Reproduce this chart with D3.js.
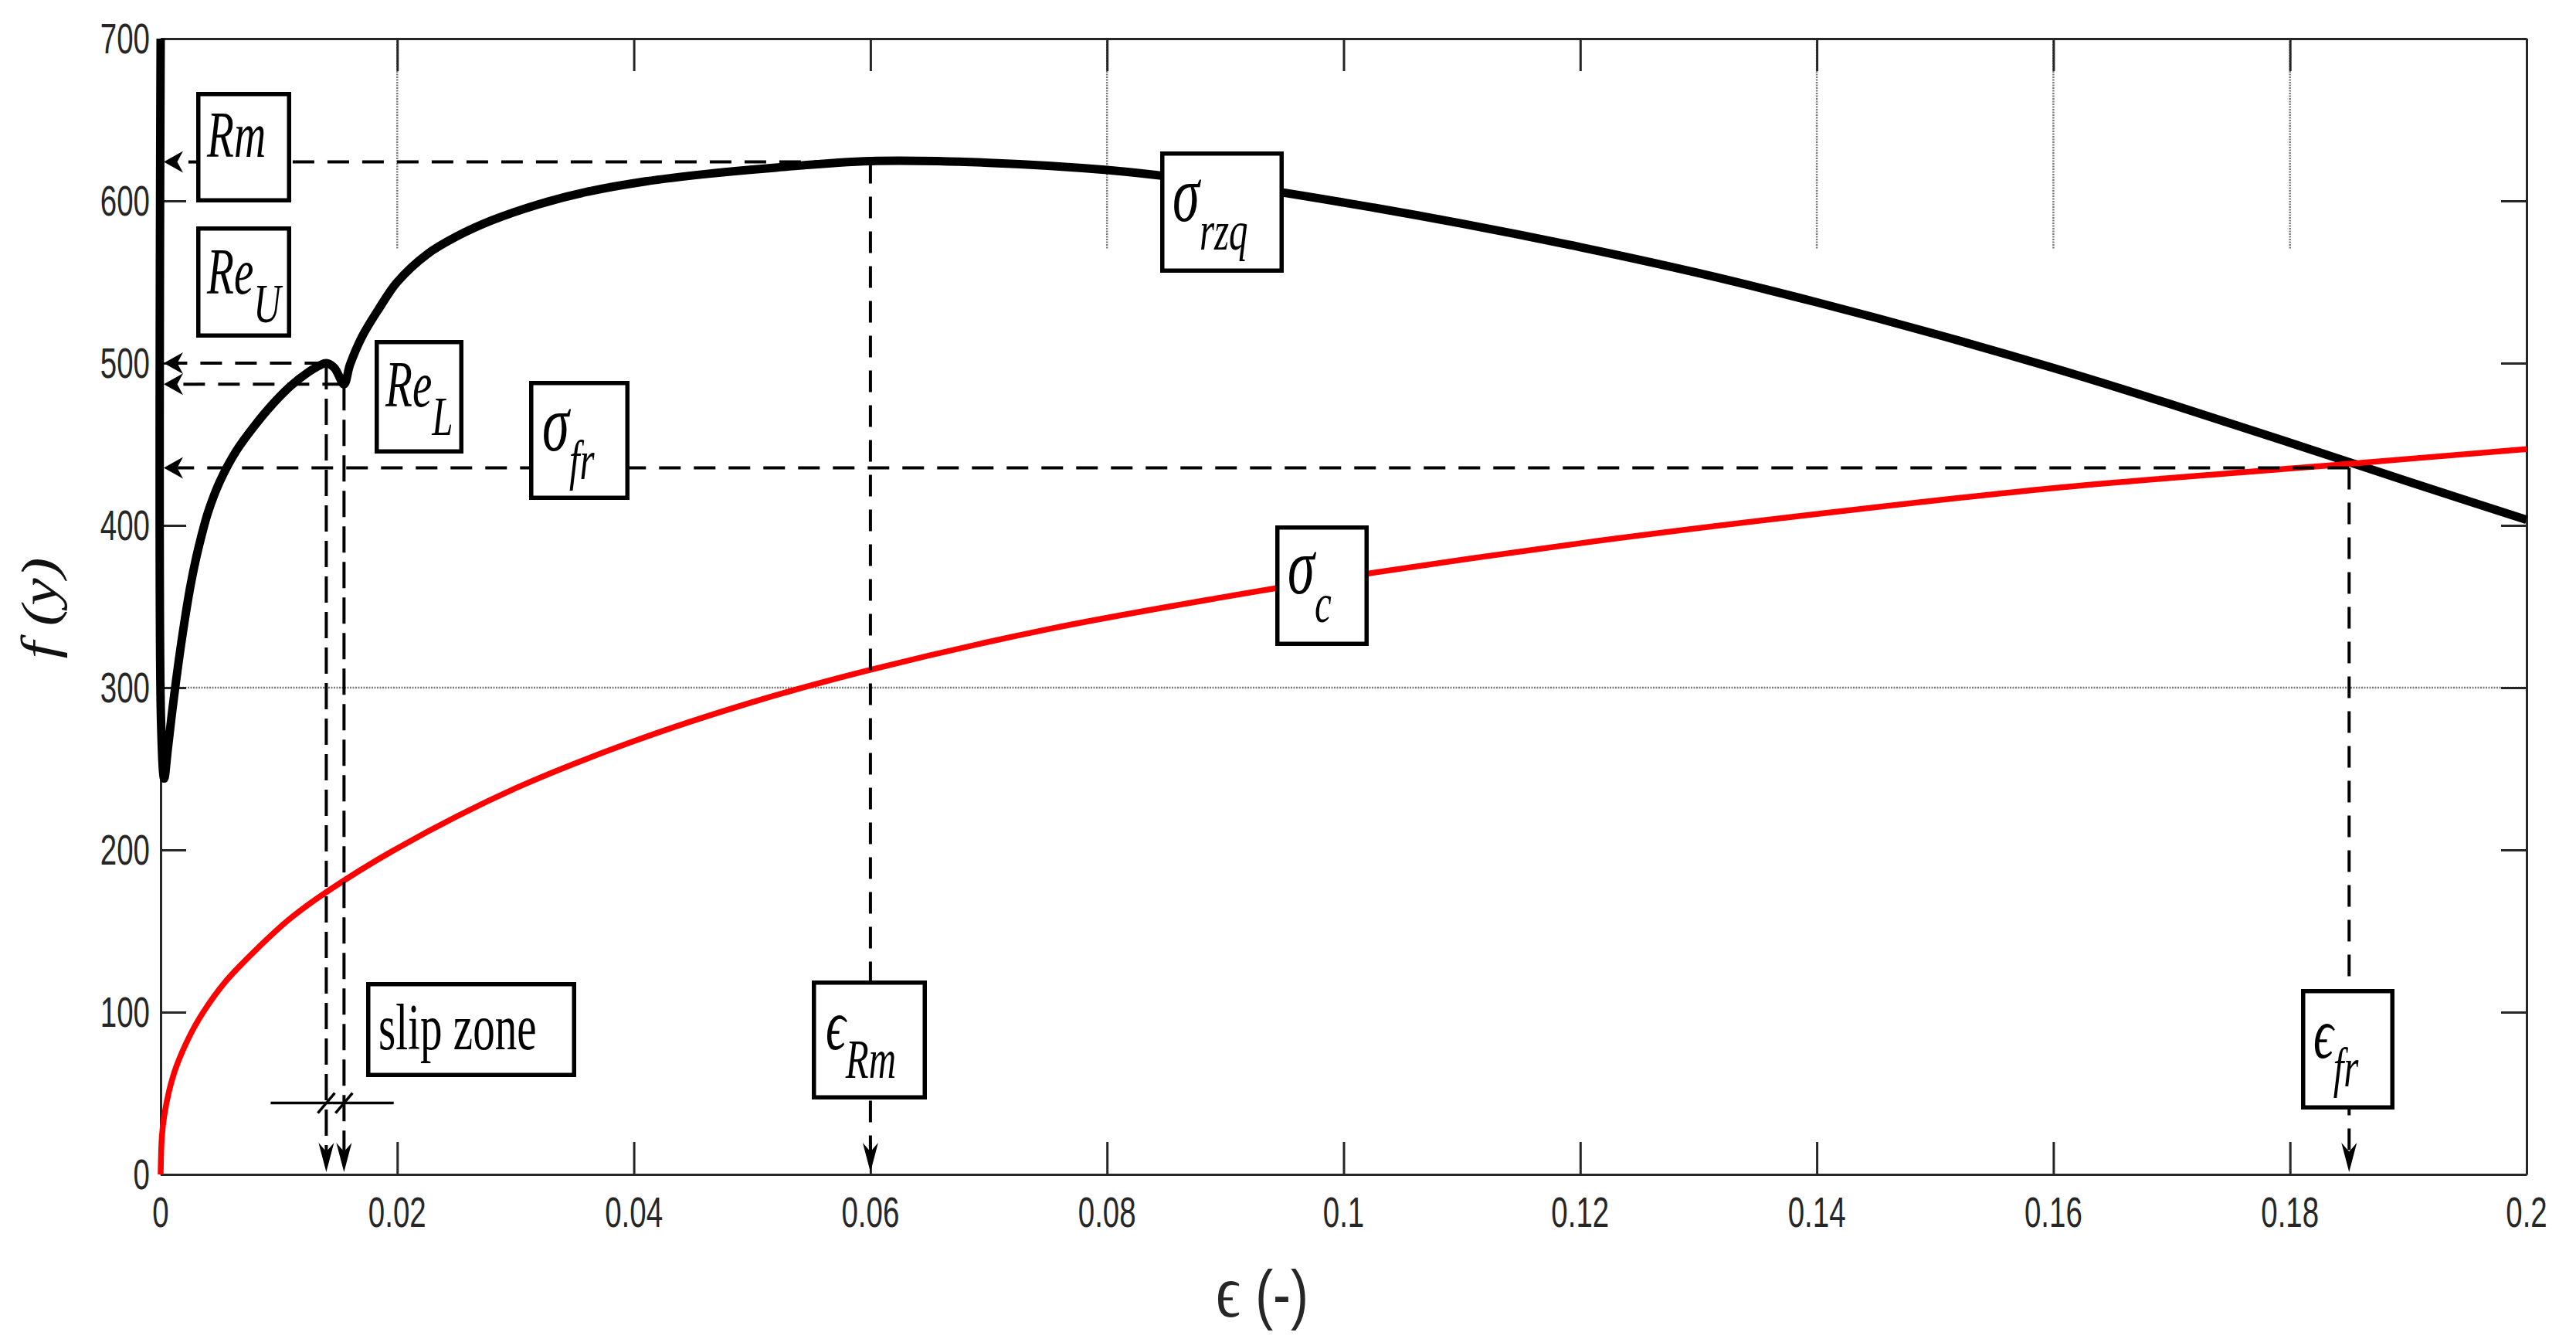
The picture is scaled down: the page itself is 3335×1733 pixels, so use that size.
<!DOCTYPE html>
<html><head><meta charset="utf-8">
<script src="https://cdn.jsdelivr.net/npm/d3@7"></script>
<style>html,body{margin:0;padding:0;background:#fff;} svg{display:block;}</style>
</head><body>
<svg id="chart" width="3335" height="1733"></svg>
<script>
// ---------- data ----------
const xTicks = [0, 0.02, 0.04, 0.06, 0.08, 0.1, 0.12, 0.14, 0.16, 0.18, 0.2];
const xTickLabels = ["0", "0.02", "0.04", "0.06", "0.08", "0.1", "0.12", "0.14", "0.16", "0.18", "0.2"];
const yTicks = [0, 100, 200, 300, 400, 500, 600, 700];
const yTickLabels = ["0", "100", "200", "300", "400", "500", "600", "700"];

// sigma_rzq (black) curve
const rzqStrain = [0, 0.00003, 0.0003, 0.0006, 0.001, 0.0015, 0.002, 0.0025, 0.003, 0.0035, 0.004, 0.005, 0.0064, 0.008, 0.0095, 0.011, 0.0125, 0.0135, 0.014, 0.0147, 0.0155, 0.016, 0.017, 0.0184, 0.02, 0.0225, 0.025, 0.028, 0.032, 0.036, 0.041, 0.046, 0.052, 0.06, 0.07, 0.08, 0.09, 0.1, 0.11, 0.12, 0.13, 0.14, 0.15, 0.16, 0.17, 0.18, 0.19, 0.2];
const rzqStress = [700, 280, 244, 262, 287, 315, 340, 362, 380, 395, 408, 427, 446, 462, 475, 486, 494.5, 498.8, 500, 497, 487, 499, 516, 533, 550, 567, 578, 588, 598, 605.5, 612, 616.5, 620.5, 624.5, 623.5, 619, 610.5, 599, 586, 571.5, 555.5, 537.5, 518, 497, 474.5, 451, 427, 403.5];

// sigma_c (red) curve
const cStrain = [0, 0.0001, 0.0003, 0.0007, 0.0013, 0.0025, 0.0036, 0.0055, 0.008, 0.011, 0.014, 0.02, 0.03, 0.04, 0.05, 0.06, 0.075, 0.09, 0.1, 0.12, 0.14, 0.16, 0.185, 0.2];
const cStress = [0, 23, 36, 51, 66, 86, 100, 119, 138, 158, 174, 201, 238, 267, 291, 311, 336, 356, 368, 389, 407, 423, 438, 447];

// characteristic points (strain, stress)
const markerNames = ["ReU", "ReL", "Rm", "fr"];
const markerStrain = [0.014, 0.0155, 0.06, 0.185];
const markerStress = [500, 487, 624, 435.5];

// residual grid segments visible at the top, and the one horizontal grid line
const partialGridX = [0.02, 0.08, 0.14, 0.16, 0.18];
const partialGridFrom = 700, partialGridTo = 570;
const gridY = [300];

// slip zone marker
const slipStrain = [0.0093, 0.0197];
const slipStress = 44;

// ---------- layout ----------
const svg = d3.select("#chart");
svg.append("rect").attr("width", 3335).attr("height", 1733).attr("fill", "#fff");
const L = 208, R = 3271, T = 50, B = 1520;
const x = d3.scaleLinear().domain([0, 0.2]).range([L, R]);
const y = d3.scaleLinear().domain([0, 700]).range([B, T]);
const axisCol = "#262626";

// grid
const grid = svg.append("g").attr("stroke", "#7a7a7a").attr("stroke-width", 2.5).attr("stroke-dasharray", "2,1.5");
gridY.forEach(v => grid.append("line").attr("x1", L).attr("x2", R).attr("y1", y(v)).attr("y2", y(v)));
partialGridX.forEach(v => grid.append("line").attr("x1", x(v)).attr("x2", x(v)).attr("y1", y(partialGridFrom)).attr("y2", y(partialGridTo)));

// axes (ticks inward on all four sides)
function styleAxis(g) {
  g.selectAll("path.domain").attr("stroke", axisCol).attr("stroke-width", 3);
  g.selectAll(".tick line").attr("stroke", axisCol).attr("stroke-width", 3);
  g.selectAll(".tick text").remove();
}
svg.append("g").attr("transform", `translate(0,${B})`)
  .call(d3.axisBottom(x).tickValues(xTicks).tickSizeInner(-42).tickSizeOuter(0).tickFormat("")).call(styleAxis);
svg.append("g").attr("transform", `translate(0,${T})`)
  .call(d3.axisTop(x).tickValues(xTicks).tickSizeInner(-42).tickSizeOuter(0).tickFormat("")).call(styleAxis);
svg.append("g").attr("transform", `translate(${L},0)`)
  .call(d3.axisLeft(y).tickValues(yTicks).tickSizeInner(-33).tickSizeOuter(0).tickFormat("")).call(styleAxis);
svg.append("g").attr("transform", `translate(${R},0)`)
  .call(d3.axisRight(y).tickValues(yTicks).tickSizeInner(-33).tickSizeOuter(0).tickFormat("")).call(styleAxis);

// tick labels
const sans = "'Liberation Sans', Arial, Helvetica, sans-serif";
const serif = "'Liberation Serif', 'Times New Roman', 'DejaVu Serif', serif";
const TX = 0.70, TF = 55;
svg.append("g").selectAll("text").data(xTicks).join("text")
  .attr("transform", d => `translate(${x(d)},1588) scale(${TX},1)`)
  .attr("text-anchor", "middle").attr("font-family", sans).attr("font-size", TF).attr("fill", axisCol)
  .text((d, i) => xTickLabels[i]);
svg.append("g").selectAll("text").data(yTicks).join("text")
  .attr("transform", d => `translate(194,${y(d) + 19}) scale(${TX},1)`)
  .attr("text-anchor", "end").attr("font-family", sans).attr("font-size", TF).attr("fill", axisCol)
  .text((d, i) => yTickLabels[i]);

// axis titles
const xl = svg.append("text").attr("transform", `translate(1574,1704) scale(0.8,1)`)
  .attr("font-family", sans).attr("font-size", 86).attr("fill", axisCol);
xl.append("tspan").attr("font-family", serif).attr("font-size", 98).text("ϵ");
xl.append("tspan").attr("x", 64).text("(-)");
svg.append("text").attr("transform", `translate(73,787) scale(0.82,1) rotate(-90)`)
  .attr("text-anchor", "middle").attr("font-family", serif).attr("font-style", "italic")
  .attr("font-size", 80).attr("fill", "#111").text("f (y)");

// curves
const line = d3.line().curve(d3.curveCatmullRom.alpha(0.5));
const blackPts = rzqStrain.map((e, i) => [x(e), y(rzqStress[i])]);
const redPts = cStrain.map((e, i) => [x(e), y(cStress[i])]);
svg.append("path").attr("d", line(blackPts)).attr("fill", "none").attr("stroke", "#000")
  .attr("stroke-width", 11).attr("stroke-linejoin", "round");
svg.append("path").attr("d", line(redPts)).attr("fill", "none").attr("stroke", "#ff0000")
  .attr("stroke-width", 7.5).attr("stroke-linejoin", "round");

// dashed guide lines with arrows
const guides = svg.append("g");
const tipLeft = x(0) + 4, tipDown = y(0) - 3;
const aL = 25, aW = 14, dL = 38, dW = 10;
markerNames.forEach((n, i) => {
  const px = x(markerStrain[i]), py = y(markerStress[i]);
  const vDash = (n === "ReU" || n === "ReL") ? "34,12" : "28,17";
  guides.append("line").attr("x1", px).attr("x2", tipLeft + aL * 0.7).attr("y1", py).attr("y2", py)
    .attr("stroke", "#000").attr("stroke-width", 4).attr("stroke-dasharray", "28,17");
  guides.append("line").attr("x1", px).attr("x2", px).attr("y1", py).attr("y2", tipDown - dL * 0.7)
    .attr("stroke", "#000").attr("stroke-width", 4).attr("stroke-dasharray", vDash);
  guides.append("path").attr("fill", "#000")
    .attr("d", `M${tipLeft},${py} L${tipLeft + aL},${py - aW} L${tipLeft + aL * 0.7},${py} L${tipLeft + aL},${py + aW} Z`);
  guides.append("path").attr("fill", "#000")
    .attr("d", `M${px},${tipDown} L${px - dW},${tipDown - dL} L${px},${tipDown - dL * 0.7} L${px + dW},${tipDown - dL} Z`);
});

// slip zone marker
const sy = y(slipStress);
guides.append("line").attr("x1", x(slipStrain[0])).attr("x2", x(slipStrain[1])).attr("y1", sy).attr("y2", sy)
  .attr("stroke", "#000").attr("stroke-width", 3.5);
[0, 1].forEach(i => {
  const px = x(markerStrain[i]);
  guides.append("line").attr("x1", px - 11).attr("x2", px + 11).attr("y1", sy + 13).attr("y2", sy - 13)
    .attr("stroke", "#000").attr("stroke-width", 3.5);
});

// annotation boxes (mf = font size of the main symbol)
const boxes = [
  {b: [254, 119, 377, 262], t: [268, 203], main: "Rm", mf: 84, sub: null, it: true},
  {b: [254, 293, 377, 437], t: [268, 380], main: "Re", mf: 84, sub: "U", it: true},
  {b: [485, 440, 600, 587], t: [499, 526], main: "Re", mf: 84, sub: "L", it: true},
  {b: [685, 493, 815, 647], t: [702, 583], main: "σ", mf: 104, sub: "fr", it: true},
  {b: [1502, 196, 1662, 353], t: [1518, 286], main: "σ", mf: 104, sub: "rzq", it: true},
  {b: [1651, 680, 1772, 836], t: [1667, 768], main: "σ", mf: 104, sub: "c", it: true},
  {b: [474, 1271, 746, 1394], t: [490, 1358], main: "slip zone", mf: 84, sub: null, it: false},
  {b: [1051, 1269, 1200, 1423], t: [1069, 1358], main: "ϵ", mf: 94, sub: "Rm", it: true},
  {b: [2979, 1280, 3100, 1436], t: [2995, 1369], main: "ϵ", mf: 94, sub: "fr", it: true}
];
const bw = 5.5, SF = 72, BX = 0.68;
const bg = svg.append("g");
boxes.forEach(d => {
  bg.append("rect").attr("x", d.b[0] + bw / 2).attr("y", d.b[1] + bw / 2)
    .attr("width", d.b[2] - d.b[0] - bw).attr("height", d.b[3] - d.b[1] - bw)
    .attr("fill", "#fff").attr("stroke", "#000").attr("stroke-width", bw);
  const t = bg.append("text").attr("transform", `translate(${d.t[0]},${d.t[1]}) scale(${BX},1)`)
    .attr("font-family", serif).attr("font-style", d.it ? "italic" : "normal")
    .attr("font-size", d.mf).attr("fill", "#000");
  t.append("tspan").text(d.main);
  if (d.sub) t.append("tspan").attr("font-size", SF).attr("dy", 37).text(d.sub);
});
</script>
</body></html>
